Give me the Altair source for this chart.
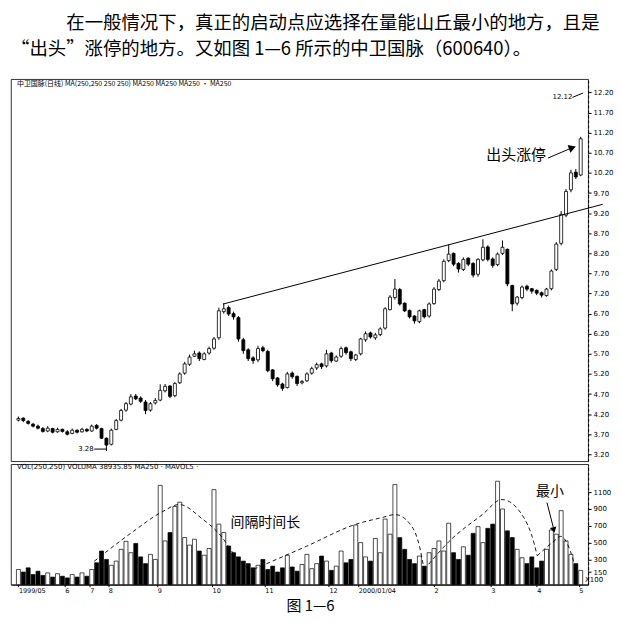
import json
import altair as alt
import pandas as pd

# ---------------- data ----------------
opens = [4.05,4.10,4.02,3.95,3.90,3.84,3.78,3.84,3.76,3.82,
         3.76,3.72,3.80,3.76,3.82,3.78,3.92,3.84,3.60,3.45,
         3.82,4.05,4.30,4.45,4.65,4.60,4.50,4.30,4.48,4.55,
         4.78,4.90,4.66,4.98,5.22,5.44,5.64,5.72,5.56,5.72,
         5.84,6.10,6.75,6.85,6.70,6.60,6.05,5.80,5.60,5.55,
         5.85,5.76,5.30,5.10,4.95,4.86,5.22,5.14,4.98,5.03,
         5.22,5.35,5.45,5.40,5.72,5.52,5.64,5.85,5.75,5.56,
         5.70,6.05,6.22,6.10,6.18,6.34,6.80,7.10,7.30,6.96,
         6.78,6.64,6.50,6.80,6.64,6.95,7.30,7.52,8.02,8.20,
         7.95,7.80,8.08,7.95,7.68,8.04,8.36,8.06,7.92,8.20,
         8.30,7.40,6.96,7.10,7.38,7.32,7.28,7.22,7.15,7.32,
         7.80,8.45,9.15,9.78,10.22,10.15]
closes = [4.09,4.04,3.97,3.90,3.85,3.77,3.85,3.75,3.82,3.77,
          3.70,3.80,3.75,3.82,3.78,3.90,3.85,3.60,3.43,3.80,
          4.04,4.29,4.46,4.63,4.58,4.52,4.29,4.46,4.54,4.79,
          4.89,4.64,4.96,5.20,5.45,5.62,5.70,5.58,5.70,5.83,
          6.07,6.77,6.82,6.69,6.62,6.07,5.78,5.58,5.53,5.83,
          5.78,5.28,5.08,4.93,4.84,5.20,5.13,4.96,5.01,5.20,
          5.33,5.43,5.38,5.70,5.53,5.62,5.83,5.73,5.58,5.67,
          6.07,6.20,6.12,6.17,6.32,6.82,7.11,7.31,6.94,6.77,
          6.62,6.52,6.77,6.62,6.94,7.31,7.51,8.00,8.18,7.93,
          7.81,8.05,7.93,7.66,8.05,8.35,8.05,7.90,8.18,8.35,
          7.44,6.94,7.11,7.36,7.31,7.26,7.21,7.16,7.31,7.76,
          8.43,9.17,9.74,10.20,10.10,11.05]
highs = [4.14,4.12,4.05,3.98,3.94,3.88,3.90,3.86,3.86,3.84,
         3.80,3.84,3.82,3.86,3.85,3.94,3.95,3.86,3.62,3.84,
         4.08,4.33,4.50,4.70,4.70,4.64,4.55,4.50,4.60,4.94,
         4.95,4.92,5.00,5.24,5.50,5.68,5.78,5.76,5.74,5.88,
         6.12,6.85,6.96,6.90,6.75,6.64,6.10,5.84,5.64,5.90,
         5.90,5.80,5.32,5.12,4.98,5.25,5.26,5.16,5.05,5.24,
         5.38,5.48,5.48,5.80,5.75,5.66,5.88,5.88,5.78,5.70,
         6.10,6.26,6.25,6.22,6.36,6.86,7.16,7.56,7.34,6.98,
         6.80,6.66,6.80,6.82,6.98,7.36,7.56,8.05,8.42,8.22,
         7.98,8.10,8.10,7.98,8.08,8.55,8.40,8.10,8.22,8.52,
         8.32,7.42,7.14,7.40,7.42,7.34,7.30,7.25,7.34,7.80,
         8.48,9.25,9.80,10.28,10.30,11.10]
lows = [4.02,4.00,3.94,3.87,3.82,3.74,3.75,3.72,3.74,3.74,
        3.67,3.70,3.72,3.74,3.75,3.76,3.82,3.58,3.28,3.42,
        3.80,4.02,4.26,4.42,4.55,4.48,4.20,4.26,4.44,4.52,
        4.74,4.60,4.62,4.95,5.18,5.40,5.62,5.52,5.54,5.68,
        5.80,6.05,6.70,6.64,6.55,6.00,5.70,5.52,5.45,5.50,
        5.74,5.24,5.02,4.88,4.78,4.84,5.08,4.90,4.94,5.00,
        5.18,5.30,5.32,5.36,5.48,5.50,5.60,5.68,5.52,5.52,
        5.66,6.00,6.08,6.05,6.14,6.30,6.78,7.05,6.90,6.74,
        6.58,6.45,6.46,6.58,6.60,6.92,7.26,7.48,7.98,7.88,
        7.72,7.76,7.88,7.60,7.62,8.00,8.00,7.84,7.88,8.16,
        7.38,6.76,6.90,7.06,7.26,7.20,7.16,7.10,7.12,7.28,
        7.76,8.40,9.10,9.72,10.05,10.12]
volumes = [180,150,200,120,160,110,140,90,130,100,
           80,120,90,140,100,180,260,400,300,230,
           280,420,515,380,490,330,250,360,300,1180,
           520,620,930,980,560,470,540,400,350,430,
           1130,720,620,460,380,330,280,250,200,230,
           300,180,220,150,200,350,210,160,240,360,
           190,250,340,280,170,220,400,260,300,710,
           500,330,280,550,380,780,600,1190,560,420,
           300,250,340,220,380,430,520,400,730,380,
           300,450,350,610,690,500,670,720,1230,900,
           640,560,420,320,250,330,200,280,420,650,
           600,880,520,360,250,170]

price_ticks = [12.2, 11.7, 11.2, 10.7, 10.2, 9.7, 9.2, 8.7, 8.2, 7.7,
               7.2, 6.7, 6.2, 5.7, 5.2, 4.7, 4.2, 3.7, 3.2]
vol_ticks = [150, 300, 500, 700, 900, 1100]
date_tick_pos = [0, 9.5, 14.6, 18.4, 28.4, 39.6, 50.4, 63.5, 69.5, 85.0, 96.6, 106.0, 114.6]
date_tick_labels = ["1999/05", "6", "7", "8", "9", "10", "11", "12",
                    "2000/01/04", "2", "3", "4", "5"]

# trend line (index, price)
trend_x = [41.9, 119.5]
trend_y = [6.94, 9.42]

# dashed volume "hills" (index, volume)
hill1_x = [15.5, 23.5, 29.5, 32.9, 37.5, 41.5, 44.1, 47.5]
hill1_v = [278, 633, 870, 953, 787, 574, 361, 160]
hill2_x = [48.1, 58.9, 68.9, 74.5, 77.0, 80.1, 82.1, 82.9]
hill2_v = [183, 456, 716, 800, 834, 722, 438, 200]
hill3_x = [83.9, 88.1, 94.9, 98.9, 102.9, 105.5, 106.1]
hill3_v = [243, 515, 834, 1012, 840, 485, 343]
hill4_x = [106.1, 109.5, 110.9, 112.9, 114.1]
hill4_v = [343, 515, 574, 396, 160]

HEADER_1 = "在一般情况下，真正的启动点应选择在量能山丘最小的地方，且是"
HEADER_2 = "“出头”涨停的地方。又如图 1—6 所示的中卫国脉（600640）。"
CAPTION = "图 1—6"
PRICE_LABEL = "中卫国脉(日线) MA(250,250 250 250) MA250   MA250   MA250 · MA250"
VOL_LABEL = "VOL(250,250) VOLUMA 38935.85 MA250 · MAVOL5 ·"

CJK = "Noto Sans CJK SC"
SMALL = "DejaVu Sans"

# ---------------- tables ----------------
n = len(closes)
df = pd.DataFrame({"i": list(range(n)), "open": opens, "close": closes,
                   "high": highs, "low": lows, "vol": volumes})
df["dir"] = ["up" if c >= o else "down" for o, c in zip(opens, closes)]

xs = alt.Scale(domain=[-0.5, n - 0.5], nice=False, zero=False)
ps = alt.Scale(domain=[3.027, 12.534], nice=False, zero=False)
vs = alt.Scale(domain=[0, 1432], nice=False, zero=True)
fill_scale = alt.Scale(domain=["up", "down"], range=["white", "black"])

price_axis = alt.Axis(orient="right", values=price_ticks, format=".2f", title=None,
                      labelFont=SMALL, labelFontSize=7, tickSize=3, labelPadding=2,
                      domainDash=[3, 2], grid=False)
vol_axis = alt.Axis(orient="right", values=vol_ticks, format="d", title=None,
                    labelFont=SMALL, labelFontSize=7, tickSize=3, labelPadding=2,
                    domainDash=[3, 2], grid=False)
label_expr = "%s[indexof(%s, datum.value)]" % (json.dumps(date_tick_labels), json.dumps(date_tick_pos))
date_axis = alt.Axis(values=date_tick_pos, labelExpr=label_expr, title=None,
                     labelFont=SMALL, labelFontSize=6.5, labelAlign="left",
                     labelOverlap=False, labelFlush=False, tickSize=2, labelPadding=1,
                     grid=False)

X_P = lambda f: alt.X(f, type="quantitative", scale=xs, axis=None)
Y_P = lambda f: alt.Y(f, type="quantitative", scale=ps, axis=price_axis)
X_V = lambda f: alt.X(f, type="quantitative", scale=xs, axis=date_axis)
Y_V = lambda f: alt.Y(f, type="quantitative", scale=vs, axis=vol_axis)

base = alt.Chart(df)

wick = base.mark_rule(color="black", strokeWidth=1).encode(
    x=X_P("i"), y=Y_P("low"), y2="high")
body = base.mark_bar(width=3, stroke="black", strokeWidth=0.8).encode(
    x=X_P("i"), y=Y_P("open"), y2="close",
    fill=alt.Fill("dir:N", scale=fill_scale, legend=None))

trend = alt.Chart(pd.DataFrame({"x": trend_x, "y": trend_y})).mark_line(
    color="black", strokeWidth=1).encode(x=X_P("x"), y=Y_P("y"))

ann_text = pd.DataFrame({
    "x": [101.8, 15.4, 113.3, -0.3],
    "y": [10.65, 3.33, 12.08, 12.41],
    "t": ["出头涨停", "3.28", "12.12", PRICE_LABEL],
})
big_txt = alt.Chart(ann_text.iloc[[0]]).mark_text(
    font=CJK, fontSize=15, align="center", baseline="middle", color="black").encode(
    x=X_P("x"), y=Y_P("y"), text="t:N")
small_r = alt.Chart(ann_text.iloc[[1, 2]]).mark_text(
    font=SMALL, fontSize=7, align="right", baseline="middle", color="black").encode(
    x=X_P("x"), y=Y_P("y"), text="t:N")
small_l = alt.Chart(ann_text.iloc[[3]]).mark_text(
    font=CJK, fontSize=7, align="left", baseline="middle", color="black").encode(
    x=X_P("x"), y=Y_P("y"), text="t:N")

ann_lines = pd.DataFrame({
    "x": [108.3, 112.9, 15.5, 18.1, 113.3, 115.5],
    "y": [10.57, 10.81, 3.33, 3.33, 12.08, 12.19],
    "g": ["a", "a", "b", "b", "c", "c"],
})
p_lines = alt.Chart(ann_lines).mark_line(color="black", strokeWidth=1).encode(
    x=X_P("x"), y=Y_P("y"), detail="g:N")
p_head = alt.Chart(pd.DataFrame({"x": [113.3], "y": [10.83]})).mark_point(
    shape="triangle-right", filled=True, size=70, angle=340, color="black", opacity=1).encode(
    x=X_P("x"), y=Y_P("y"))

price = alt.layer(wick, body, trend, p_lines, p_head, big_txt, small_r, small_l).properties(
    width=580, height=384,
    title=alt.TitleParams(text=HEADER_2, anchor="start", fontSize=18.5,
                          font=CJK, fontWeight="normal", color="black", offset=21))

# ---------------- volume panel ----------------
vbars = base.mark_bar(width=4, stroke="black", strokeWidth=0.7).encode(
    x=X_V("i"), y=Y_V("vol"),
    fill=alt.Fill("dir:N", scale=fill_scale, legend=None))

hills = pd.DataFrame({
    "x": hill1_x + hill2_x + hill3_x + hill4_x,
    "v": hill1_v + hill2_v + hill3_v + hill4_v,
    "h": ["1"] * len(hill1_x) + ["2"] * len(hill2_x) + ["3"] * len(hill3_x) + ["4"] * len(hill4_x),
})
hill_lines = alt.Chart(hills).mark_line(
    color="black", strokeWidth=0.9, strokeDash=[4, 3], interpolate="monotone").encode(
    x=X_V("x"), y=Y_V("v"), detail="h:N")

v_text = pd.DataFrame({"x": [50.5, 108.7], "v": [734, 1100], "t": ["间隔时间长", "最小"]})
v_big = alt.Chart(v_text).mark_text(
    font=CJK, fontSize=14, align="center", baseline="middle", color="black").encode(
    x=X_V("x"), y=Y_V("v"), text="t:N")
v_small = alt.Chart(pd.DataFrame({"x": [-0.3, 115.9], "v": [1396, 60], "t": [VOL_LABEL, "X100"]})).mark_text(
    font=SMALL, fontSize=7, align="left", baseline="middle", color="black").encode(
    x=X_V("x"), y=Y_V("v"), text="t:N")
v_arrow = alt.Chart(pd.DataFrame({"x": [108.1, 109.4], "v": [975, 680]})).mark_line(
    color="black", strokeWidth=1).encode(x=X_V("x"), y=Y_V("v"))
v_head = alt.Chart(pd.DataFrame({"x": [109.5], "v": [650]})).mark_point(
    shape="triangle-down", filled=True, size=45, angle=346, color="black", opacity=1).encode(
    x=X_V("x"), y=Y_V("v"))

volume = alt.layer(vbars, hill_lines, v_arrow, v_head, v_big, v_small).properties(
    width=580, height=121,
    title=alt.TitleParams(text=CAPTION, orient="bottom", anchor="middle", frame="group",
                          fontSize=15, font=CJK, fontWeight="normal", color="black",
                          offset=5, dx=11))

chart = alt.vconcat(price, volume, spacing=0).properties(
    padding={"left": 2, "top": 4, "right": 0, "bottom": 0},
    title=alt.TitleParams(text=HEADER_1, anchor="start", fontSize=18.5, font=CJK,
                          fontWeight="normal", color="black", dx=56, offset=7)
).configure_view(stroke="black", strokeWidth=0.8).configure_axis(
    labelColor="black", tickColor="black", domainColor="black")

chart.save("out.html", embed_options={"renderer": "svg", "actions": False})
